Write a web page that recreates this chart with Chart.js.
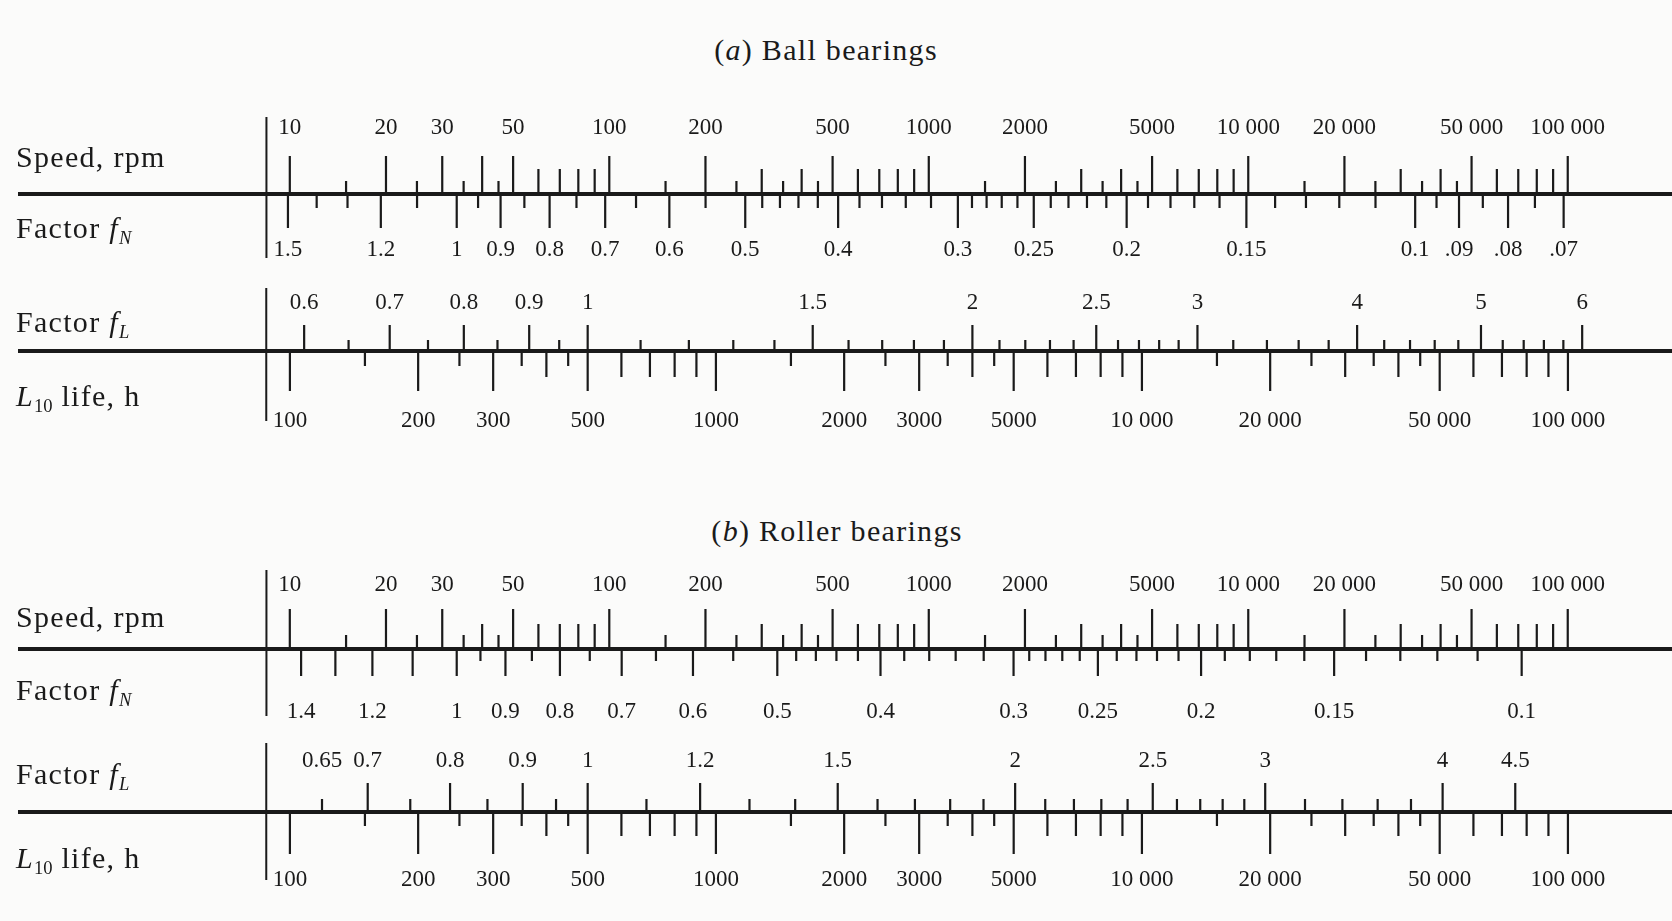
<!DOCTYPE html>
<html>
<head>
<meta charset="utf-8">
<title>Speed, life and load factors for ball and roller bearings</title>
<script src="https://cdn.jsdelivr.net/npm/chart.js@4.4.1/dist/chart.umd.min.js"></script>
<style>
  body { margin: 0; background: #fbfbfa; }
  #sheet { position: relative; width: 1672px; height: 921px; overflow: hidden;
           font-family: "Liberation Serif", "Times New Roman", serif; color: #1a1a1a; }
  #sheet canvas { position: absolute; left: 0; }
  .title, .side { position: absolute; white-space: nowrap; font-size: 30px; line-height: 1; letter-spacing: 1.3px; z-index: 2; }
  .title { transform: translate(-50%, -50%); }
  .side { left: 16px; transform: translateY(-50%); }
  sub { font-size: 0.62em; vertical-align: -0.3em; line-height: 0; letter-spacing: 0; }
</style>
</head>
<body>
<div id="sheet">
  <div class="title" style="left:826px; top:50px">(<i>a</i>) Ball bearings</div>
  <div class="side" style="top:157px">Speed, rpm</div>
  <div class="side" style="top:228px">Factor <i>f</i><sub><i>N</i></sub></div>
  <div class="side" style="top:322px">Factor <i>f</i><sub><i>L</i></sub></div>
  <div class="side" style="top:396px"><i>L</i><sub>10</sub> life, h</div>

  <div class="title" style="left:837px; top:531px">(<i>b</i>) Roller bearings</div>
  <div class="side" style="top:617px">Speed, rpm</div>
  <div class="side" style="top:690px">Factor <i>f</i><sub><i>N</i></sub></div>
  <div class="side" style="top:774px">Factor <i>f</i><sub><i>L</i></sub></div>
  <div class="side" style="top:858px"><i>L</i><sub>10</sub> life, h</div>

  <canvas id="ballSpeed"></canvas>
  <canvas id="ballLife"></canvas>
  <canvas id="rollerSpeed"></canvas>
  <canvas id="rollerLife"></canvas>
</div>
<script>
// ---- speed scale, rpm (same printed scale in both panels)
const speedLabels = [10, 20, 30, 50, 100, 200, 500, 1000, 2000, 5000, 10000, 20000, 50000, 100000];
const speedText = ['10', '20', '30', '50', '100', '200', '500', '1000', '2000', '5000', '10 000', '20 000', '50 000', '100 000'];
const speedMid = [60, 70, 80, 90, 300, 400, 600, 700, 800, 900, 3000, 4000, 6000, 7000, 8000, 9000,
                  30000, 40000, 60000, 70000, 80000, 90000];
const speedShort = [15, 25, 35, 45, 150, 250, 350, 450, 1500, 2500, 3500, 4500, 15000, 25000, 35000, 45000];
const ballSpeedLongExtra = [40];
const rollerSpeedMidExtra = [40];

// ---- L10 life scale, h (same in both panels)
const lifeLabels = [100, 200, 300, 500, 1000, 2000, 3000, 5000, 10000, 20000, 50000, 100000];
const lifeText = ['100', '200', '300', '500', '1000', '2000', '3000', '5000', '10 000', '20 000', '50 000', '100 000'];
const lifeMid = [400, 600, 700, 800, 900, 4000, 6000, 7000, 8000, 9000, 30000, 40000, 60000, 70000, 80000, 90000];
const lifeShort = [150, 250, 350, 450, 1500, 2500, 3500, 4500, 15000, 25000, 35000, 45000];

// ---- (a) ball bearings
const ballFnLabels = [1.5, 1.2, 1, 0.9, 0.8, 0.7, 0.6, 0.5, 0.4, 0.3, 0.25, 0.2, 0.15, 0.1, 0.09, 0.08, 0.07];
const ballFnText = ['1.5', '1.2', '1', '0.9', '0.8', '0.7', '0.6', '0.5', '0.4', '0.3', '0.25', '0.2', '0.15', '0.1', '.09', '.08', '.07'];
const ballFnShort = [1.4, 1.3, 1.1, 0.95, 0.85, 0.75, 0.65, 0.55, 0.48, 0.46, 0.44, 0.42, 0.38, 0.36, 0.34, 0.32,
                     0.29, 0.28, 0.27, 0.26, 0.24, 0.23, 0.22, 0.21, 0.19, 0.18, 0.17, 0.16, 0.14, 0.13, 0.12, 0.11,
                     0.095, 0.085, 0.075];
const ballFlLabels = [0.6, 0.7, 0.8, 0.9, 1, 1.5, 2, 2.5, 3, 4, 5, 6];
const ballFlText = ['0.6', '0.7', '0.8', '0.9', '1', '1.5', '2', '2.5', '3', '4', '5', '6'];
const ballFlShort = [0.65, 0.75, 0.85, 0.95, 1.1, 1.2, 1.3, 1.4, 1.6, 1.7, 1.8, 1.9, 2.1, 2.2, 2.3, 2.4,
                     2.6, 2.7, 2.8, 2.9, 3.2, 3.4, 3.6, 3.8, 4.2, 4.4, 4.6, 4.8, 5.2, 5.4, 5.6, 5.8];

// ---- (b) roller bearings
const rollerFnLabels = [1.4, 1.2, 1, 0.9, 0.8, 0.7, 0.6, 0.5, 0.4, 0.3, 0.25, 0.2, 0.15, 0.1];
const rollerFnText = ['1.4', '1.2', '1', '0.9', '0.8', '0.7', '0.6', '0.5', '0.4', '0.3', '0.25', '0.2', '0.15', '0.1'];
const rollerFnLongExtra = [1.3, 1.1];
const rollerFnShort = [0.95, 0.85, 0.75, 0.65, 0.55, 0.48, 0.46, 0.44, 0.42, 0.38, 0.36, 0.34, 0.32,
                       0.29, 0.28, 0.27, 0.26, 0.24, 0.23, 0.22, 0.21, 0.19, 0.18, 0.17, 0.16, 0.14, 0.13, 0.12, 0.11];
const rollerFlLabels = [0.65, 0.7, 0.8, 0.9, 1, 1.2, 1.5, 2, 2.5, 3, 4, 4.5];
const rollerFlText = ['0.65', '0.7', '0.8', '0.9', '1', '1.2', '1.5', '2', '2.5', '3', '4', '4.5'];
const rollerFlLong = [0.7, 0.8, 0.9, 1, 1.2, 1.5, 2, 2.5, 3, 4, 4.5];
const rollerFlShort = [0.65, 0.75, 0.85, 0.95, 1.1, 1.3, 1.4, 1.6, 1.7, 1.8, 1.9, 2.1, 2.2, 2.3, 2.4,
                       2.6, 2.7, 2.8, 2.9, 3.2, 3.4, 3.6, 3.8];

// range covered by the full length of each line, and the left end rule
const SPEED_RANGE = [1.41, 2.12e5];
const LIFE_RANGE = [23.0, 1.755e5];
const RULE_SPEED = 8.45;
const RULE_LIFE = 88;

// f_N = (33.3/n)^(1/p), f_L = (L10/500)^(1/p)
const BALL_P = 3;
const ROLLER_P = 10 / 3;
const fnOfSpeed = (n, p) => Math.pow(33.3 / n, 1 / p);
const flOfLife = (h, p) => Math.pow(h / 500, 1 / p);

const INK = '#1a1a1a';
const SERIF = '"Liberation Serif", "Times New Roman", serif';
const TICK_FONT = 23;
const AXIS_PAD = 14;

function logAxis(position, range, reverse, values, text) {
  return {
    type: 'logarithmic', position, min: range[0], max: range[1], reverse, bounds: 'data', offset: false,
    afterBuildTicks: axis => { axis.ticks = values.map(v => ({ value: v })); },
    grid: { display: false, drawTicks: false, tickLength: 0 },
    border: { display: false },
    ticks: {
      autoSkip: false, maxRotation: 0, minRotation: 0, padding: AXIS_PAD, color: INK,
      font: { family: SERIF, size: TICK_FONT, lineHeight: 1 },
      callback: (v, i) => text[i]
    }
  };
}

// one short stroke per value, going up (dir 1) or down (dir -1) from the line
function marks(values, axisID, dir, len, width) {
  const data = [];
  values.forEach(v => data.push({ x: v, y: 0 }, { x: v, y: dir * len }, { x: v, y: null }));
  return { data, xAxisID: axisID, yAxisID: 'y', borderColor: INK, borderWidth: width || 2.2,
           pointRadius: 0, clip: false, spanGaps: false };
}

function lineSet(axisID, range) {
  return { data: [{ x: range[0], y: 0 }, { x: range[1], y: 0 }], xAxisID: axisID, yAxisID: 'y',
           borderColor: INK, borderWidth: 4, pointRadius: 0, clip: false };
}

function ruleSet(axisID, x, up, down) {
  return { data: [{ x, y: up }, { x, y: -down }], xAxisID: axisID, yAxisID: 'y',
           borderColor: INK, borderWidth: 2, pointRadius: 0, clip: false };
}

function drawRow(id, geo, scales, datasets) {
  const canvas = document.getElementById(id);
  const top = Math.round(geo.above - AXIS_PAD - TICK_FONT / 2);
  const height = Math.round(geo.below + TICK_FONT / 2 + AXIS_PAD - top);
  const axisH = TICK_FONT + 2 * AXIS_PAD;
  const lineY = geo.line - top;
  canvas.width = 1672;
  canvas.height = height;
  canvas.style.top = top + 'px';
  canvas.style.width = '1672px';
  canvas.style.height = height + 'px';
  scales.y = { type: 'linear', display: false, bounds: 'data', min: -(height - axisH - lineY), max: lineY - axisH };
  new Chart(canvas, {
    type: 'line',
    data: { datasets },
    options: {
      responsive: false, animation: false, events: [],
      layout: { padding: { left: 18, right: 0, top: 0, bottom: 0 } },
      plugins: { legend: { display: false }, tooltip: { enabled: false } },
      scales
    }
  });
}

// (a) speed / f_N
drawRow('ballSpeed', { above: 127, line: 194, below: 249 }, {
  xTop: logAxis('top', SPEED_RANGE, false, speedLabels, speedText),
  xBot: logAxis('bottom', [fnOfSpeed(SPEED_RANGE[1], BALL_P), fnOfSpeed(SPEED_RANGE[0], BALL_P)], true, ballFnLabels, ballFnText)
}, [
  lineSet('xTop', SPEED_RANGE),
  ruleSet('xTop', RULE_SPEED, 77, 64),
  marks(speedLabels.concat(ballSpeedLongExtra), 'xTop', 1, 38),
  marks(speedMid, 'xTop', 1, 25),
  marks(speedShort, 'xTop', 1, 13),
  marks(ballFnLabels, 'xBot', -1, 34),
  marks(ballFnShort, 'xBot', -1, 14)
]);

// (a) f_L / L10 life
drawRow('ballLife', { above: 302, line: 351, below: 420 }, {
  xTop: logAxis('top', [flOfLife(LIFE_RANGE[0], BALL_P), flOfLife(LIFE_RANGE[1], BALL_P)], false, ballFlLabels, ballFlText),
  xBot: logAxis('bottom', LIFE_RANGE, false, lifeLabels, lifeText)
}, [
  lineSet('xBot', LIFE_RANGE),
  ruleSet('xBot', RULE_LIFE, 63, 70),
  marks(ballFlLabels, 'xTop', 1, 26),
  marks(ballFlShort, 'xTop', 1, 11),
  marks(lifeLabels, 'xBot', -1, 40),
  marks(lifeMid, 'xBot', -1, 26),
  marks(lifeShort, 'xBot', -1, 15)
]);

// (b) speed / f_N
drawRow('rollerSpeed', { above: 584, line: 649, below: 711 }, {
  xTop: logAxis('top', SPEED_RANGE, false, speedLabels, speedText),
  xBot: logAxis('bottom', [fnOfSpeed(SPEED_RANGE[1], ROLLER_P), fnOfSpeed(SPEED_RANGE[0], ROLLER_P)], true, rollerFnLabels, rollerFnText)
}, [
  lineSet('xTop', SPEED_RANGE),
  ruleSet('xTop', RULE_SPEED, 79, 67),
  marks(speedLabels, 'xTop', 1, 40),
  marks(speedMid.concat(rollerSpeedMidExtra), 'xTop', 1, 25),
  marks(speedShort, 'xTop', 1, 14),
  marks(rollerFnLabels.concat(rollerFnLongExtra), 'xBot', -1, 27),
  marks(rollerFnShort, 'xBot', -1, 12)
]);

// (b) f_L / L10 life
drawRow('rollerLife', { above: 760, line: 812, below: 879 }, {
  xTop: logAxis('top', [flOfLife(LIFE_RANGE[0], ROLLER_P), flOfLife(LIFE_RANGE[1], ROLLER_P)], false, rollerFlLabels, rollerFlText),
  xBot: logAxis('bottom', LIFE_RANGE, false, lifeLabels, lifeText)
}, [
  lineSet('xBot', LIFE_RANGE),
  ruleSet('xBot', RULE_LIFE, 69, 68),
  marks(rollerFlLong, 'xTop', 1, 29),
  marks(rollerFlShort, 'xTop', 1, 13),
  marks(lifeLabels, 'xBot', -1, 42),
  marks(lifeMid, 'xBot', -1, 24),
  marks(lifeShort, 'xBot', -1, 14)
]);
</script>
</body>
</html>
